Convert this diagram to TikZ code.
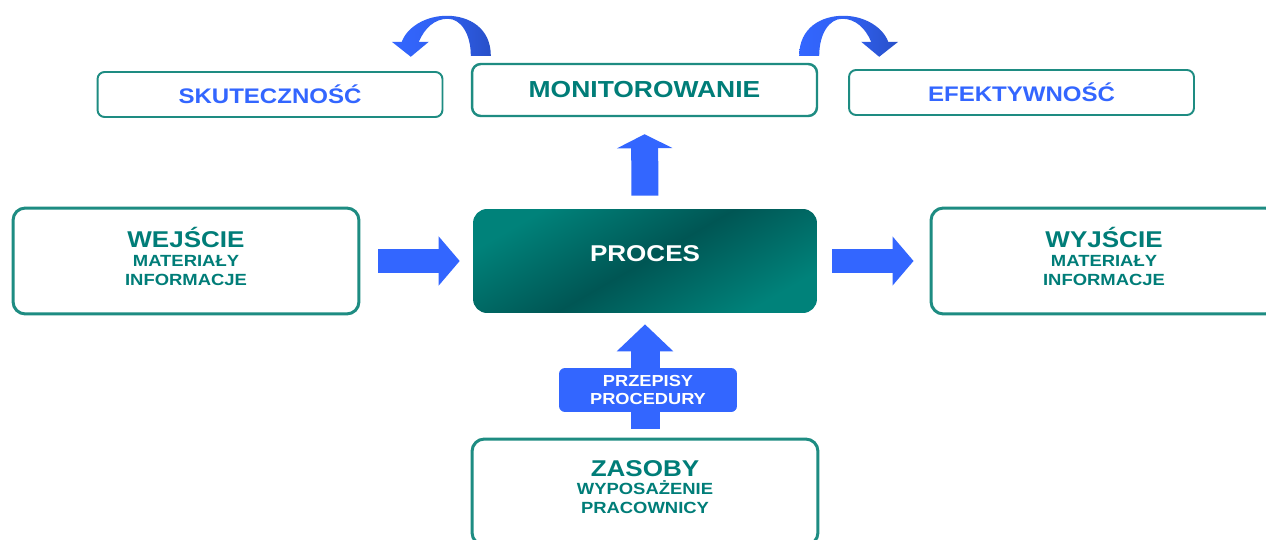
\documentclass[tikz,border=0pt]{standalone}
\usepackage{fontspec}
\setmainfont{Liberation Sans}[FakeStretch=1.14]
\usetikzlibrary{arrows.meta,calc}
\definecolor{sea}{RGB}{0,125,120}
\definecolor{rim}{RGB}{30,140,130}
\definecolor{azure}{RGB}{51,102,255}
\definecolor{navy}{RGB}{40,80,200}
\definecolor{procA}{RGB}{0,130,122}
\definecolor{procB}{RGB}{0,86,84}
\newcommand{\boxhead}{\fontsize{13}{15}\selectfont\bfseries}
\newcommand{\boxitem}{\fontsize{9.2}{10.8}\selectfont\bfseries}
\tikzset{
  frame/.style={draw=rim,line width=1.7pt,rounded corners=7pt,fill=white,
    minimum width=6.92cm,minimum height=2.12cm,align=center,text=sea,
    font=\boxitem,text depth=0.2cm},
  goal/.style={draw=rim,line width=1.1pt,rounded corners=4pt,fill=white,
    minimum width=6.9cm,minimum height=0.9cm,text=azure,
    font=\fontsize{12}{14}\selectfont\bfseries},
  proc/.style={rounded corners=8pt,minimum width=6.88cm,minimum height=2.08cm,
    top color=procA,bottom color=procA,middle color=procB,shading angle=30,
    text=white,font=\boxhead,text depth=0.28cm},
  rule/.style={fill=azure,rounded corners=3.4pt,minimum width=3.56cm,
    minimum height=0.88cm,align=center,text=white,
    font=\fontsize{9.1}{10.2}\selectfont\bfseries},
  fat/.style n args={3}{draw=azure,line width=#1,-{Triangle[length=#2,width=#3]}},
  % curved arrow over the monitoring box
  pics/bent/.style={code={
    \shade[left color=azure,right color=navy,middle color=azure!75!navy]
      (10,0) .. controls (10,-28) and (-12,-40) .. (-34,-40)
      .. controls (-56,-40) and (-74,-28) .. (-79,-14)
      -- (-89,-14) -- (-70,1) -- (-52,-14) -- (-62,-14)
      .. controls (-56,-28) and (-46,-37) .. (-33,-37)
      .. controls (-20,-37) and (-10,-22) .. (-10,0) -- cycle;
  }},
}
\begin{document}
\begin{tikzpicture}[x=0.02cm,y=-0.02cm]
  \useasboundingbox (0,0) rectangle (1266,540);
  \fill[white] (0,0) rectangle (1266,540);

  \node[goal] (eff) at (270,94.5) {SKUTECZNOŚĆ};
  \node[goal,text=sea,line width=1.4pt,rounded corners=5pt,minimum height=1.04cm,
    font=\fontsize{13.2}{15}\selectfont\bfseries] (mon) at (644.5,90) {MONITOROWANIE};
  \node[goal] (effi) at (1021.5,92.5) {EFEKTYWNOŚĆ};

  \node[frame] (in) at (186,261) {{\boxhead WEJŚCIE}\\MATERIAŁY\\INFORMACJE};
  \node[proc] (proc) at (645,261) {PROCES};
  \node[frame] (out) at (1104,261) {{\boxhead WYJŚCIE}\\MATERIAŁY\\INFORMACJE};
  \node[frame] (zas) at (645,492) {{\boxhead ZASOBY}\\WYPOSAŻENIE\\PRACOWNICY};

  \draw[fat={0.48cm}{0.42cm}{0.96cm},shorten <=0.36cm,shorten >=0.26cm] (in.east) -- (proc.west);
  \draw[fat={0.48cm}{0.42cm}{0.96cm},shorten <=0.3cm,shorten >=0.32cm] (proc.east) -- (out.west);
  \draw[fat={0.54cm}{0.28cm}{1.1cm},shorten <=0.26cm,shorten >=0.34cm] (proc.north) -- (mon.south);
  \draw[fat={0.58cm}{0.54cm}{1.1cm},shorten <=0.18cm,shorten >=0.22cm] (zas.north) -- (proc.south);

  \node[rule] (rules) at (648,390) {PRZEPISY\\PROCEDURY};

  \pic at ($(mon.north west)+(10,-7)$) {bent};
  \pic[xscale=-1] at ($(mon.north east)+(-9,-7)$) {bent};
\end{tikzpicture}
\end{document}
